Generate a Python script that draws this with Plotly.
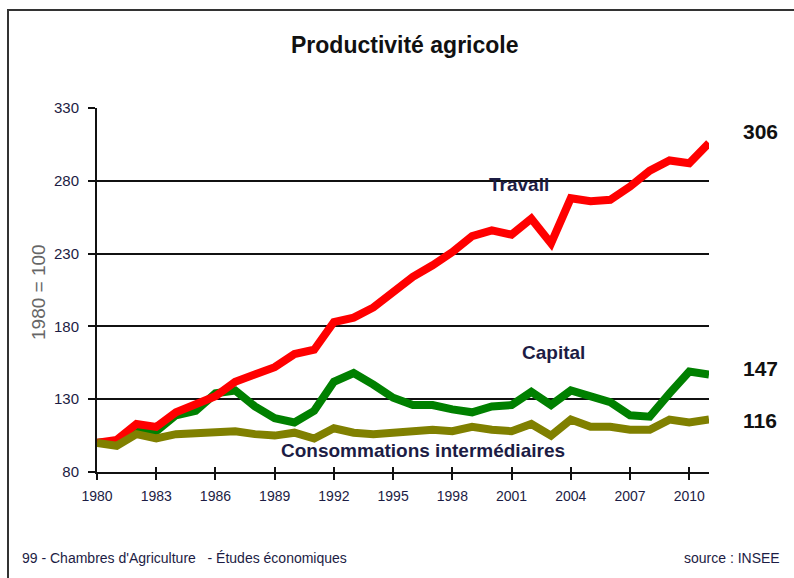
import plotly.graph_objects as go

years = list(range(1980, 2012))
travail = [100, 102, 113, 111, 121, 126, 132, 142, 147, 152, 161, 164, 183, 186, 193, 203,
           214, 222, 231, 242, 246, 243, 254, 237, 268, 266, 267, 276, 287, 294, 292, 306]
capital = [100, 101, 110, 108, 119, 122, 134, 136, 125, 117, 114, 122, 142, 148, 140, 131,
           126, 126, 123, 121, 125, 126, 135, 126, 136, 132, 128, 119, 118, 134, 149, 147]
conso = [100, 98, 106, 103, 106, 107, 107, 108, 106, 105, 107, 103, 110, 107, 106, 107,
         109, 109, 108, 111, 109, 108, 113, 105, 116, 111, 111, 109, 109, 116, 114, 116]

series_names = ["Travail", "Capital", "Consommations intermédiaires"]
end_labels = ["306", "147", "116"]
x_ticks = list(range(1980, 2011, 3))
y_ticks = [80, 130, 180, 230, 280, 330]

FONT = "Liberation Sans, Arial, sans-serif"
TXT = "#1c1c44"

W, H = 794, 578
L, R, T, B = 97, 709, 108, 472


def px(x):
    return (x - L) / (R - L)


def py(y):
    return (B - y) / (B - T)


fig = go.Figure()
fig.add_trace(go.Scatter(x=years, y=capital, mode="lines", name=series_names[1],
                         line=dict(color="#008000", width=8)))
fig.add_trace(go.Scatter(x=years, y=travail, mode="lines", name=series_names[0],
                         line=dict(color="#ff0000", width=8)))
fig.add_trace(go.Scatter(x=years, y=conso, mode="lines", name=series_names[2],
                         line=dict(color="#808000", width=8)))

annotations = [
    dict(text="<b>Productivité agricole</b>", x=px(405), y=py(45), font=dict(size=23, color="#111")),
    dict(text="1980 = 100", x=px(38), y=py(292), textangle=-90, font=dict(size=19, color="#666")),
    dict(text="<b>" + series_names[0] + "</b>", x=px(519), y=py(184), font=dict(size=19, color=TXT)),
    dict(text="<b>" + series_names[1] + "</b>", x=px(553), y=py(352), font=dict(size=19, color=TXT)),
    dict(text="<b>" + series_names[2] + "</b>", x=px(423), y=py(450), font=dict(size=19, color=TXT)),
    dict(text="<b>" + end_labels[0] + "</b>", x=px(760), y=py(131), font=dict(size=21, color="#111")),
    dict(text="<b>" + end_labels[1] + "</b>", x=px(760), y=py(368), font=dict(size=21, color="#111")),
    dict(text="<b>" + end_labels[2] + "</b>", x=px(760), y=py(420), font=dict(size=21, color="#111")),
    dict(text="99 - Chambres d'Agriculture   - Études économiques", x=px(20), y=py(558),
         xanchor="left", font=dict(size=14, color=TXT)),
    dict(text="source : INSEE", x=px(782), y=py(558), xanchor="right", font=dict(size=14, color=TXT)),
]
for a in annotations:
    a.setdefault("xanchor", "center")
    a.update(xref="paper", yref="paper", yanchor="middle", showarrow=False)
    a["font"]["family"] = FONT

fig.update_layout(
    width=W, height=H,
    margin=dict(l=L, r=W - R, t=T, b=H - B, pad=0),
    paper_bgcolor="white", plot_bgcolor="white",
    showlegend=False,
    annotations=annotations,
    shapes=[dict(type="rect", xref="paper", yref="paper",
                 x0=px(8), x1=px(820), y0=py(600), y1=py(10),
                 line=dict(color="#333", width=2), layer="below")],
    xaxis=dict(range=[1980, 2011], tickvals=x_ticks, ticks="outside", ticklen=6, tickwidth=2,
               tickcolor="#111", showline=True, linecolor="#111", linewidth=2, showgrid=False,
               zeroline=False, ticklabelstandoff=4, tickfont=dict(family=FONT, size=14, color=TXT)),
    xaxis2=dict(range=[1980, 2011], tickvals=x_ticks, ticks="inside", ticklen=5, tickwidth=2,
                tickcolor="#111", overlaying="x", anchor="y", side="bottom",
                showticklabels=False, showgrid=False, zeroline=False, showline=False),
    yaxis=dict(range=[80, 330], tickvals=y_ticks, ticks="outside", ticklen=7, tickwidth=2,
               tickcolor="#111", showline=True, linecolor="#111", linewidth=2,
               showgrid=True, gridcolor="#111", gridwidth=2, zeroline=False,
               ticklabelstandoff=6, tickfont=dict(family=FONT, size=15, color=TXT)),
)
fig.add_trace(go.Scatter(x=[1980], y=[80], xaxis="x2", mode="markers",
                         marker=dict(opacity=0), hoverinfo="skip", showlegend=False))

fig.write_html("out.html", config={"displayModeBar": False},
               post_script="document.body.style.margin='0';document.body.style.overflow='hidden';")
